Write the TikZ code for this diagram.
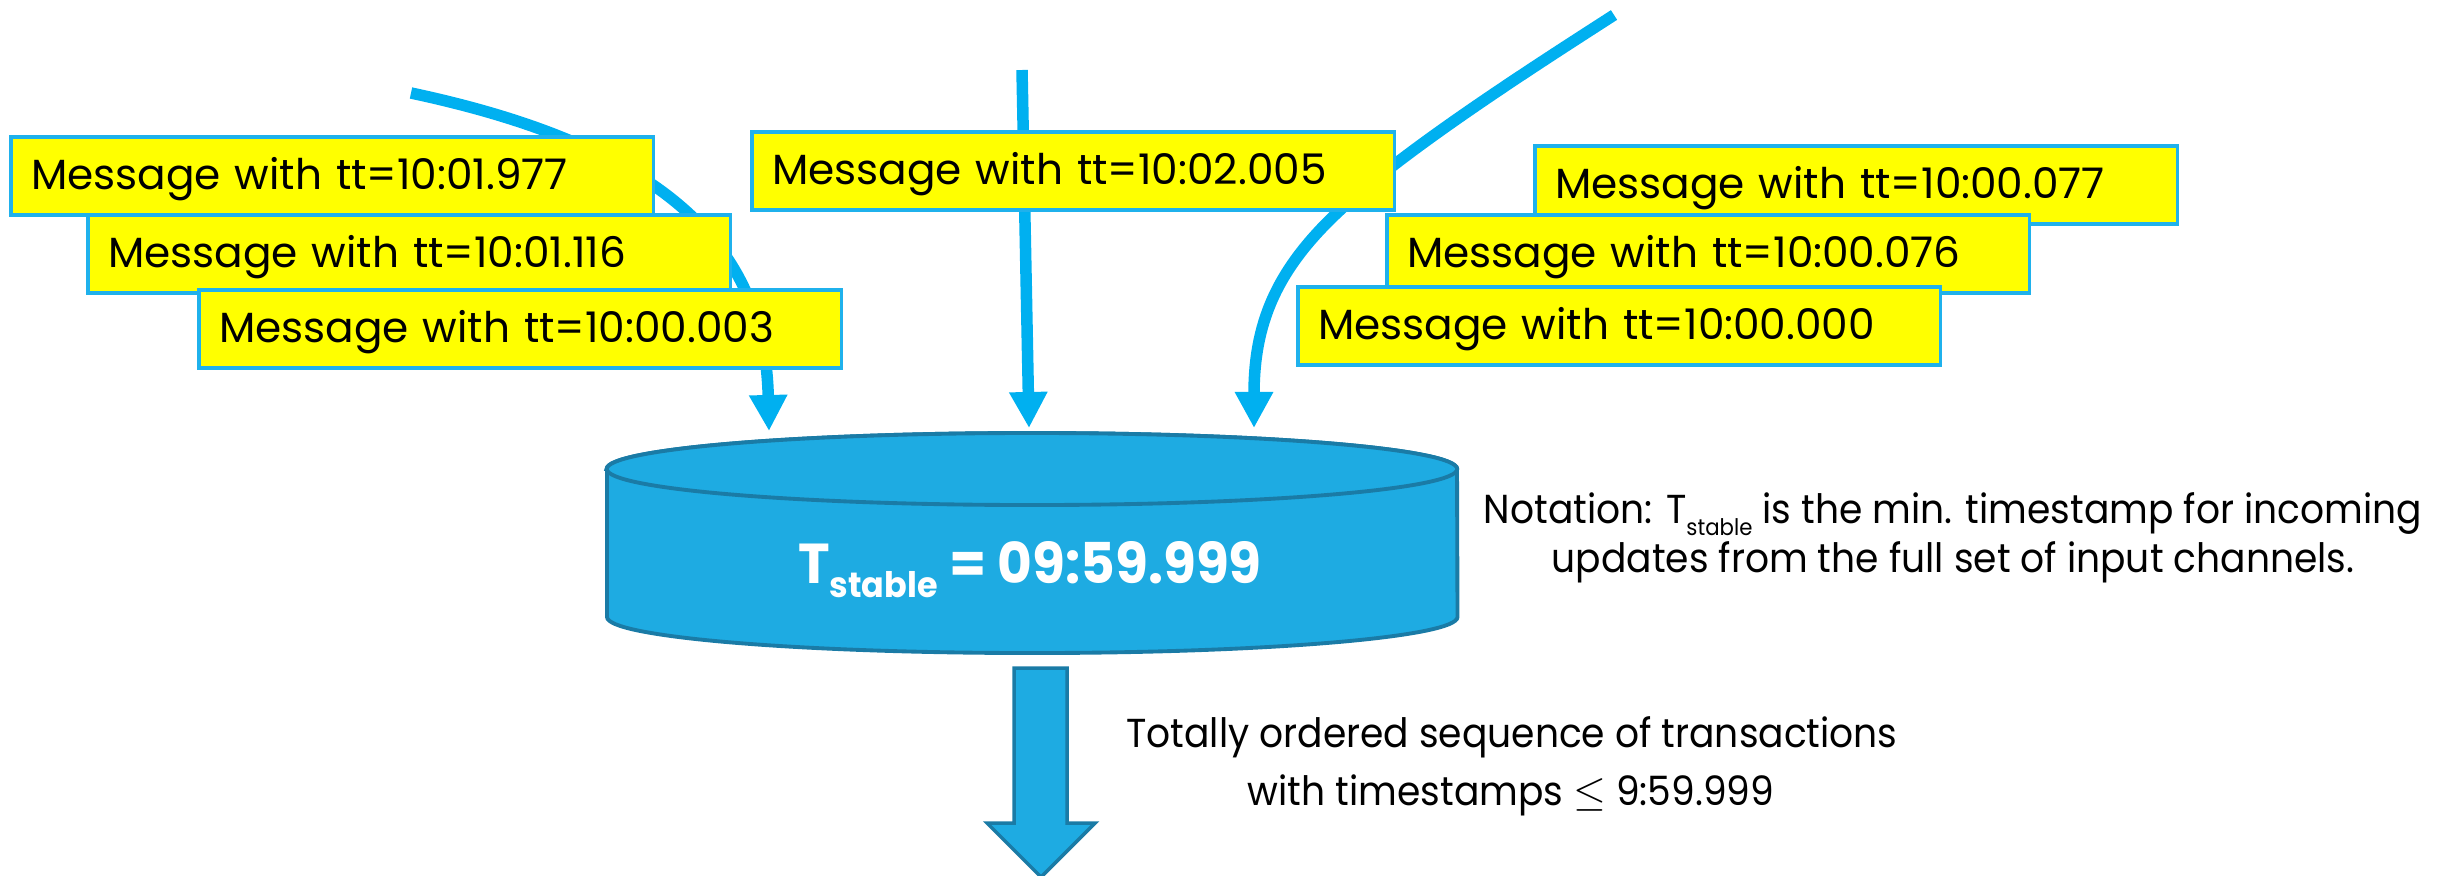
\documentclass[tikz,border=0pt]{standalone}
\usepackage{fontspec}
\setmainfont{Poppins}
\newfontfamily\narrowfam[FakeStretch=0.93]{Poppins}
\newfontfamily\boldnarrowfam[FakeStretch=0.95]{Poppins Bold}
\usetikzlibrary{arrows.meta}
\definecolor{flow}{HTML}{00B0F0}
\definecolor{cylfill}{HTML}{1EABE2}
\definecolor{cyledge}{HTML}{1A7BA6}
\definecolor{boxedge}{HTML}{1FB1EC}
\definecolor{msgfill}{HTML}{FFFF00}
\newcommand\msgfont{\fontsize{12}{14}\selectfont}
\newcommand\txtfont{\narrowfam\fontsize{11.5}{14}\selectfont}
\newcommand\bigfont{\boldnarrowfam\fontsize{16}{19}\selectfont}
\newcommand\lowsub[3]{\raisebox{-#2}{\fontsize{#1}{#1}\selectfont #3}}
\begin{document}
\begin{tikzpicture}[x=0.01cm,y=-0.01cm,
  msg/.style={draw=boxedge, line width=0.9pt, fill=msgfill, anchor=north west,
    inner xsep=0.2cm, inner ysep=0pt, text width=6.02cm, minimum height=0.78cm,
    text height=0.27cm, text depth=0pt, align=left, outer sep=0pt, font=\msgfont},
  flowline/.style={draw=flow, line width=0.115cm, -{Triangle[length=0.36cm,width=0.36cm]}},
  cyl/.style={fill=cylfill, draw=cyledge, line width=1.1pt},
  lbl/.style={anchor=base, inner sep=0pt, font=\txtfont}]
\useasboundingbox (0,0) rectangle (2443,875);
% cylinder
\path[cyl] (607,469) -- (607,617) arc[start angle=180,end angle=360,x radius=4.25cm,y radius=0.36cm] -- (1457,469) arc[start angle=0,end angle=180,x radius=4.25cm,y radius=0.36cm] -- cycle;
\draw[cyl] (1032,469) ellipse[x radius=4.25cm,y radius=0.36cm];
\node[anchor=base, inner sep=0pt, text=white, font=\bigfont] (tstable) at (1030,583) {T\lowsub{10}{4.2pt}{stable} = 09:59.999};
% incoming channels
\coordinate (s1) at (411,93); \coordinate (e1) at (769,431);
\coordinate (s2) at (1022,70); \coordinate (e2) at (1029,428);
\coordinate (s3) at (1614,15); \coordinate (m3) at (1338,212); \coordinate (e3) at (1254,428);
\draw[flowline] (s1) .. controls (670,148) and (765,250) .. (e1);
\draw[flowline] (s2) -- (e2);
\draw[flowline] (s3) .. controls (1538,64) and (1403,150) .. (m3) .. controls (1275,271) and (1254,325) .. (e3);
% messages
\node[msg] (b1) at (11,137) {Message with tt=10:01.977};
\node[msg] (b2) at (88,215) {Message with tt=10:01.116};
\node[msg] (b3) at (199,290) {Message with tt=10:00.003};
\node[msg] (b4) at (752,132) {Message with tt=10:02.005};
\node[msg] (b5) at (1535,146) {Message with tt=10:00.077};
\node[msg] (b6) at (1387,215) {Message with tt=10:00.076};
\node[msg] (b7) at (1298,287) {Message with tt=10:00.000};
% output arrow
\draw[cyl, line width=1pt] (1014,668) -- (1067,668) -- (1067,823) -- (1095,823) -- (1041,877) -- (987,823) -- (1014,823) -- cycle;
% texts
\node[lbl] (n1) at (1953,523) {Notation: T\lowsub{6.5}{3.6pt}{stable} is the min. timestamp for incoming};
\node[lbl] (n2) at (1953,572) {updates from the full set of input channels.};
\node[lbl] (t1) at (1512,747) {Totally ordered sequence of transactions};
\node[lbl] (t2) at (1511,805) {with timestamps $\leq$ 9:59.999};
\end{tikzpicture}
\end{document}
